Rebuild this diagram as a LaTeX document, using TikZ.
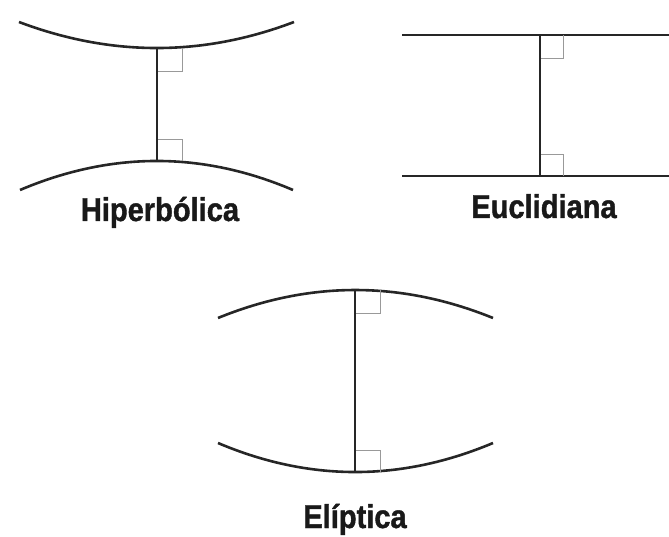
\documentclass[tikz,border=0pt]{standalone}
\usepackage{fontspec}
\newfontfamily\lblfont{Liberation Sans Bold}[FakeStretch=0.88,FakeBold=1.2]
\begin{document}
\begin{tikzpicture}[x=1pt,y=-1pt,
  curve/.style={line width=2.6pt,black!85},
  perp/.style={line width=2.2pt,black!85},
  rightmark/.style={line width=0.8pt,black!40},
  lbl/.style={font=\lblfont\fontsize{33}{36}\selectfont,anchor=base,inner sep=0pt,black!90}]
\useasboundingbox (0,0) rectangle (669,537);
% Hiperbolica
\coordinate (h1) at (157,48);
\coordinate (h2) at (157,161);
\draw[curve] (19,22) .. controls (111,56.7) and (202.7,56.7) .. (294,22);
\draw[curve] (20,190) .. controls (111.3,151.3) and (202.3,151.3) .. (293,190);
\draw[rightmark] (h1) ++(0,23) -| ++(25,-23);
\draw[rightmark] (h2) ++(0,-22) -| ++(25,22);
\draw[perp] (h1) -- (h2);
\node[lbl] (hl) at (160,221) {Hiperbólica};
% Euclidiana
\coordinate (e1) at (540,35);
\coordinate (e2) at (540,176);
\draw[curve] (402,35) -- (669,35);
\draw[curve] (402,176) -- (669,176);
\draw[rightmark] (e1) ++(0,23) -| ++(23,-23);
\draw[rightmark] (e2) ++(0,-22) -| ++(23,22);
\draw[perp] (e1) -- (e2);
\node[lbl] (el) at (544,218) {Euclidiana};
% Eliptica
\coordinate (l1) at (355,290);
\coordinate (l2) at (355,472);
\draw[curve] (218,318) .. controls (309.3,280.7) and (401,280.7) .. (493,318);
\draw[curve] (218,443) .. controls (309.3,481.7) and (401,481.7) .. (493,443);
\draw[rightmark] (l1) ++(0,23) -| ++(25,-23);
\draw[rightmark] (l2) ++(0,-22) -| ++(25,22);
\draw[perp] (l1) -- (l2);
\node[lbl] (ll) at (355,528) {Elíptica};
\end{tikzpicture}
\end{document}
